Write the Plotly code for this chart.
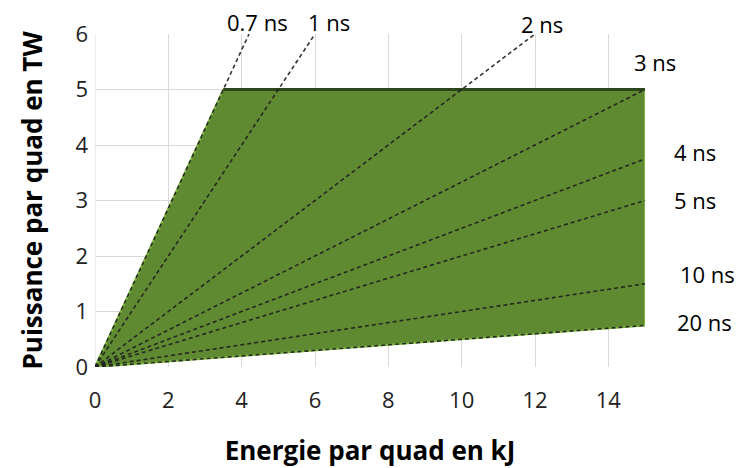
import plotly.graph_objects as go

# Data
durations_ns = [0.7, 1, 2, 3, 4, 5, 10, 20]
duration_labels = ["0.7 ns", "1 ns", "2 ns", "3 ns", "4 ns", "5 ns", "10 ns", "20 ns"]
max_power_tw = 5
max_energy_kj = 15
min_duration_ns = 0.7
max_duration_ns = 20
x_ticks = [0, 2, 4, 6, 8, 10, 12, 14]
y_ticks = [0, 1, 2, 3, 4, 5, 6]

XMAX, YMAX = 15, 6
FONT = "Open Sans"
W, H = 741, 468
L, R, T, B = 95, 96, 34, 101
PW, PH = W - L - R, H - T - B

fig = go.Figure()

# Green domain polygon
x_corner = max_power_tw * min_duration_ns
poly_x = [0, x_corner, max_energy_kj, max_energy_kj, 0]
poly_y = [0, max_power_tw, max_power_tw, max_energy_kj / max_duration_ns, 0]
fig.add_trace(go.Scatter(x=poly_x, y=poly_y, fill="toself", mode="lines",
                         fillcolor="rgb(96,138,50)", line=dict(color="rgb(125,180,65)", width=2),
                         hoverinfo="skip", showlegend=False))
# dark top edge
fig.add_trace(go.Scatter(x=[x_corner, max_energy_kj], y=[max_power_tw, max_power_tw], mode="lines",
                         line=dict(color="rgb(45,70,30)", width=3), hoverinfo="skip", showlegend=False))

# dashed duration lines
for t in durations_ns:
    xe = min(XMAX, YMAX * t)
    ye = xe / t
    fig.add_trace(go.Scatter(x=[0, xe], y=[0, ye], mode="lines",
                             line=dict(color="rgba(30,30,30,0.9)", width=1.6, dash="4px,3px"),
                             hoverinfo="skip", showlegend=False, cliponaxis=False))

# label pixel centres (layout)
label_px = {
    "0.7 ns": (257, 22),
    "1 ns": (329, 22),
    "2 ns": (542, 24),
    "3 ns": (655, 62),
    "4 ns": (695, 152),
    "5 ns": (695, 200),
    "10 ns": (707, 274),
    "20 ns": (704, 322),
}
for lab in duration_labels:
    px, py = label_px[lab]
    fig.add_annotation(x=(px - L) / PW, y=(H - B - py) / PH, xref="paper", yref="paper",
                       text=lab, showarrow=False, xanchor="center", yanchor="middle",
                       font=dict(family=FONT, size=22, color="black"))

fig.update_layout(
    width=W, height=H,
    margin=dict(l=L, r=R, t=T, b=B, autoexpand=False),
    plot_bgcolor="white", paper_bgcolor="white",
    font=dict(family=FONT, size=22, color="#222"),
    xaxis=dict(range=[0, XMAX], tickvals=x_ticks, showgrid=True, gridcolor="#d9d9d9",
               zeroline=False, showline=False, ticks="", ticklabelstandoff=18, automargin=False,
               title=dict(text="<b>Energie par quad en kJ</b>", font=dict(family=FONT, size=26, color="black"),
                          standoff=30)),
    yaxis=dict(range=[0, YMAX], tickvals=y_ticks, showgrid=True, gridcolor="#d9d9d9",
               zeroline=False, showline=False, ticks="", ticklabelstandoff=6, automargin=False,
               title=dict(text="<b>Puissance par quad en TW</b>", font=dict(family=FONT, size=26, color="black"),
                          standoff=25)),
)
fig.add_shape(type="line", x0=0, x1=0, y0=0, y1=YMAX, line=dict(color="#d9d9d9", width=1), layer="below")

fig.write_html("out.html", config={"displayModeBar": False},
               post_script="document.body.style.margin='0px';")
